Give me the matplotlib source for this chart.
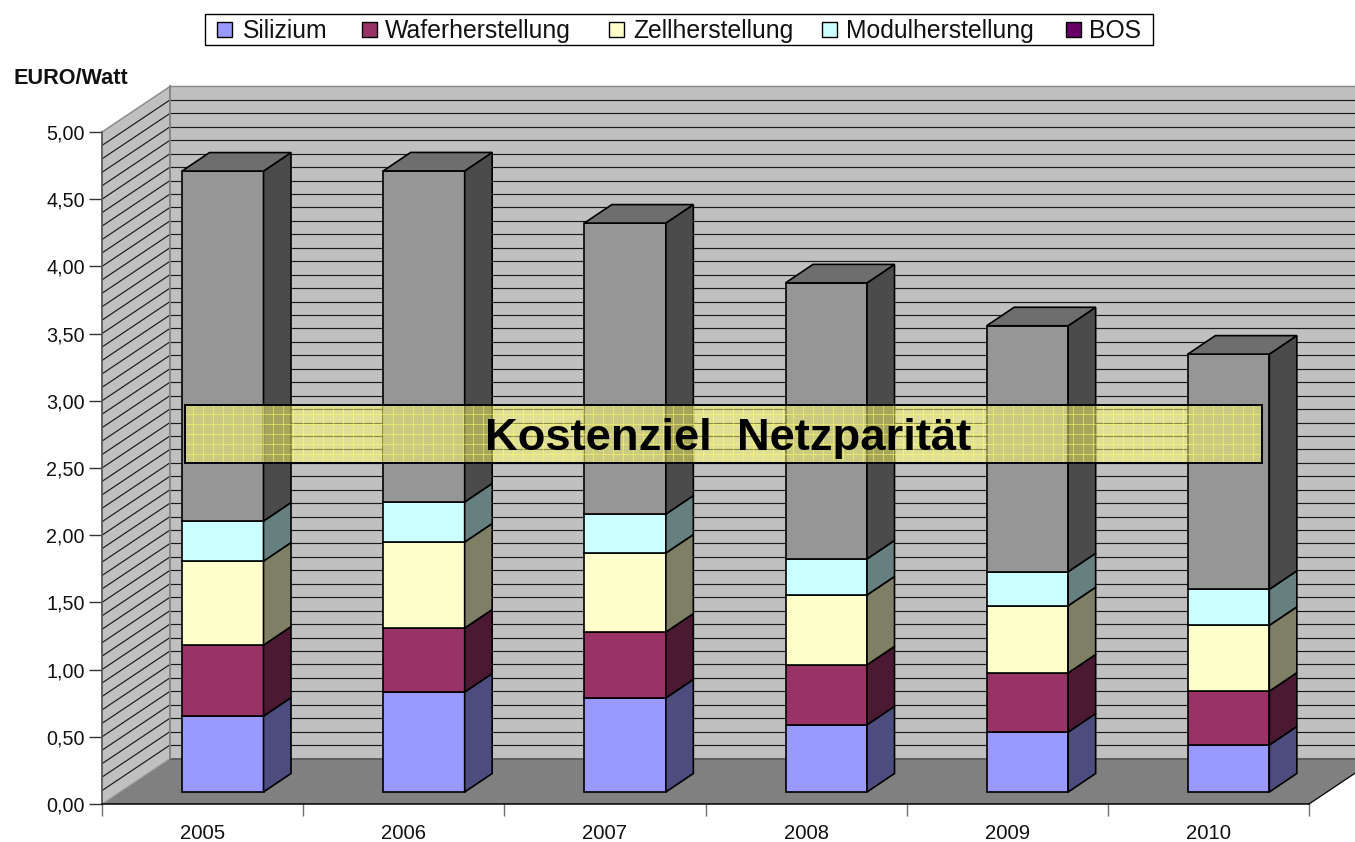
from __future__ import annotations

import matplotlib

matplotlib.use("Agg")

import matplotlib.pyplot as plt
from matplotlib.patches import Polygon, Rectangle


YEARS = ["2005", "2006", "2007", "2008", "2009", "2010"]
SILIZIUM = [0.565, 0.744, 0.70, 0.50, 0.446, 0.35]
WAFER = [0.528, 0.476, 0.49, 0.446, 0.44, 0.40]
ZELLE = [0.625, 0.64, 0.588, 0.52, 0.50, 0.49]
MODUL = [0.298, 0.298, 0.29, 0.268, 0.253, 0.268]
BOS = [2.604, 2.463, 2.165, 2.054, 1.83, 1.75]

SERIES_NAMES = ["Silizium", "Waferherstellung", "Zellherstellung", "Modulherstellung", "BOS"]
LEGEND_COLORS = ["#9999ff", "#993366", "#ffffcc", "#ccffff", "#660066"]
FRONT_COLORS = ["#9999ff", "#993366", "#ffffcc", "#ccffff", "#969696"]
SIDE_COLORS = ["#4c4c7f", "#4c1933", "#7f7f66", "#667f7f", "#4b4b4b"]
TOP_COLOR = "#6e6e6e"

Y_TICKS = [0, 0.5, 1, 1.5, 2, 2.5, 3, 3.5, 4, 4.5, 5]
Y_LABELS = ["0,00", "0,50", "1,00", "1,50", "2,00", "2,50", "3,00", "3,50", "4,00", "4,50", "5,00"]

FONT = "Liberation Sans"
FIG_W, FIG_H = 1355, 842
PLOT_LEFT, PLOT_RIGHT, PLOT_BOTTOM, PLOT_TOP = 102, 1309, 804, 132

# one data unit in pixels, used for the oblique depth of the fake 3d
PX_X = (PLOT_RIGHT - PLOT_LEFT) / len(YEARS)
PX_Y = (PLOT_BOTTOM - PLOT_TOP) / 5
WALL_DX = 68 / PX_X
WALL_DY = 45.5 / PX_Y
BAR_DX = 27.5 / PX_X
BAR_DY = 18.5 / PX_Y
BAR_LEFT = 80 / PX_X
BAR_WIDTH = 81.5 / PX_X
BAR_LIFT = 12 / PX_Y

SX, SY = 1 / FIG_W, 1 / FIG_H


def add_poly(ax, points, color, zorder, edge="none", lw=0.0):
    ax.add_patch(
        Polygon(points, closed=True, facecolor=color, edgecolor=edge, linewidth=lw,
                zorder=zorder, clip_on=False, joinstyle="miter")
    )


def px_rect(fig, x0, x1, y0, y1, zorder, **kwargs):
    # rectangle given in figure pixels, y counted from the top
    fig.add_artist(Rectangle((x0 * SX, 1 - y1 * SY), (x1 - x0) * SX, (y1 - y0) * SY,
                             transform=fig.transFigure, zorder=zorder, **kwargs))


def draw_walls(ax):
    n = len(YEARS)
    add_poly(ax, [(WALL_DX, WALL_DY), (n + WALL_DX, WALL_DY), (n + WALL_DX, 5 + WALL_DY), (WALL_DX, 5 + WALL_DY)], "#c0c0c0", 1)
    add_poly(ax, [(0, 0), (WALL_DX, WALL_DY), (WALL_DX, 5 + WALL_DY), (0, 5)], "#c0c0c0", 1)

    for i in range(1, 50):
        value = i / 10
        ax.plot([WALL_DX, n + WALL_DX], [value + WALL_DY] * 2, color="#1a1a1a", lw=0.85, zorder=2, clip_on=False)
        ax.plot([0, WALL_DX], [value, value + WALL_DY], color="#1a1a1a", lw=0.85, zorder=2, clip_on=False)

    ax.plot([0, WALL_DX, n + WALL_DX], [5, 5 + WALL_DY, 5 + WALL_DY], color="#8c8c8c", lw=1.1, zorder=3, clip_on=False)
    ax.plot([WALL_DX, WALL_DX], [WALL_DY, 5 + WALL_DY], color="#808080", lw=1.3, zorder=3, clip_on=False)

    add_poly(ax, [(0, 0), (n, 0), (n + WALL_DX, WALL_DY), (WALL_DX, WALL_DY)], "#808080", 4)
    ax.plot([WALL_DX, n + WALL_DX], [WALL_DY, WALL_DY], color="#5a5a5a", lw=1.3, zorder=4, clip_on=False)
    ax.plot([0, WALL_DX], [0, WALL_DY], color="#9a9a9a", lw=0.8, zorder=4, clip_on=False)
    ax.plot([n, n + WALL_DX], [0, WALL_DY], color="black", lw=0.9, zorder=5, clip_on=False)


def draw_bars(ax):
    stacks = [SILIZIUM, WAFER, ZELLE, MODUL, BOS]
    for i in range(len(YEARS)):
        left = i + BAR_LEFT
        right = left + BAR_WIDTH
        base = BAR_LIFT
        z = 6 + i
        for s, values in enumerate(stacks):
            top = base + values[i]
            add_poly(ax, [(left, base), (right, base), (right, top), (left, top)],
                     FRONT_COLORS[s], z, "black", 1.2)
            add_poly(ax, [(right, base), (right + BAR_DX, base + BAR_DY),
                          (right + BAR_DX, top + BAR_DY), (right, top)],
                     SIDE_COLORS[s], z, "black", 1.2)
            base = top
        add_poly(ax, [(left, base), (right, base), (right + BAR_DX, base + BAR_DY),
                      (left + BAR_DX, base + BAR_DY)], TOP_COLOR, z, "black", 1.2)


def draw_legend(fig):
    swatch_x = [217, 362, 609, 822, 1066]
    text_x = [243, 385, 633, 846, 1089]
    px_rect(fig, 205, 1153, 14, 45, 15, facecolor="white", edgecolor="black", linewidth=1.0)
    for name, color, sx, tx in zip(SERIES_NAMES, LEGEND_COLORS, swatch_x, text_x):
        px_rect(fig, sx, sx + 15, 22, 37, 16, facecolor=color, edgecolor="black", linewidth=1.0)
        fig.text(tx * SX, 1 - 38 * SY, name, family=FONT, fontsize=17.8, ha="left", va="baseline",
                 color="#111111", zorder=16)


def draw_banner(fig):
    # banner is placed in figure pixels, it has nothing to do with the data scale
    x0, x1, y0, y1 = 185, 1262, 405, 463
    px_rect(fig, x0, x1, y0, y1, 20, facecolor="#ffff70", alpha=0.5, edgecolor="none")
    for x in range(x0 + 8, x1, 10):
        fig.add_artist(plt.Line2D([x * SX, x * SX], [1 - y1 * SY, 1 - y0 * SY], color="#ffff60", alpha=0.55,
                                  lw=0.7, transform=fig.transFigure, zorder=21))
    for y in range(y0 + 9, y1, 10):
        fig.add_artist(plt.Line2D([x0 * SX, x1 * SX], [1 - y * SY, 1 - y * SY], color="#ffff60", alpha=0.55,
                                  lw=0.7, transform=fig.transFigure, zorder=21))
    px_rect(fig, x0, x1, y0, y1, 22, facecolor="none", edgecolor="black", linewidth=1.4)
    fig.text(728 * SX, 1 - 450 * SY, "Kostenziel  Netzparität", ha="center", va="baseline",
             fontsize=32.7, fontweight="bold", family=FONT, color="black", zorder=23)


def main() -> None:
    fig = plt.figure(figsize=(FIG_W / 100, FIG_H / 100), dpi=100, facecolor="white")
    ax = fig.add_axes([
        PLOT_LEFT / FIG_W,
        1 - PLOT_BOTTOM / FIG_H,
        (PLOT_RIGHT - PLOT_LEFT) / FIG_W,
        (PLOT_BOTTOM - PLOT_TOP) / FIG_H,
    ])
    ax.set_xlim(0, len(YEARS))
    ax.set_ylim(0, 5)
    ax.patch.set_visible(False)
    for side in ["top", "right"]:
        ax.spines[side].set_visible(False)
    ax.spines["left"].set_color("#5a5a5a")
    ax.spines["left"].set_linewidth(1.3)
    ax.spines["left"].set_zorder(5)
    ax.spines["bottom"].set_color("black")
    ax.spines["bottom"].set_linewidth(1.1)
    ax.spines["bottom"].set_zorder(5)

    draw_walls(ax)
    draw_bars(ax)

    ax.set_yticks(Y_TICKS)
    ax.set_yticklabels(Y_LABELS, family=FONT, fontsize=14.2, color="#111111")
    ax.tick_params(axis="y", length=9.4, width=1.0, color="#333333", pad=3)

    ax.set_xticks(range(len(YEARS) + 1))
    ax.set_xticklabels([])
    ax.tick_params(axis="x", which="major", length=8.5, width=1.0, color="#707070")
    ax.set_xticks([i + 0.5 for i in range(len(YEARS))], minor=True)
    ax.set_xticklabels(YEARS, minor=True, family=FONT, fontsize=14.6, color="#111111")
    ax.tick_params(axis="x", which="minor", length=0, pad=14.5)

    fig.text(14 * SX, 1 - 78 * SY, "EURO/Watt", family=FONT, fontweight="bold", fontsize=15.6,
             va="center", ha="left", color="#111111")

    draw_legend(fig)
    draw_banner(fig)

    fig.savefig("out.png", dpi=100, facecolor="white")
    plt.close(fig)


if __name__ == "__main__":
    main()
